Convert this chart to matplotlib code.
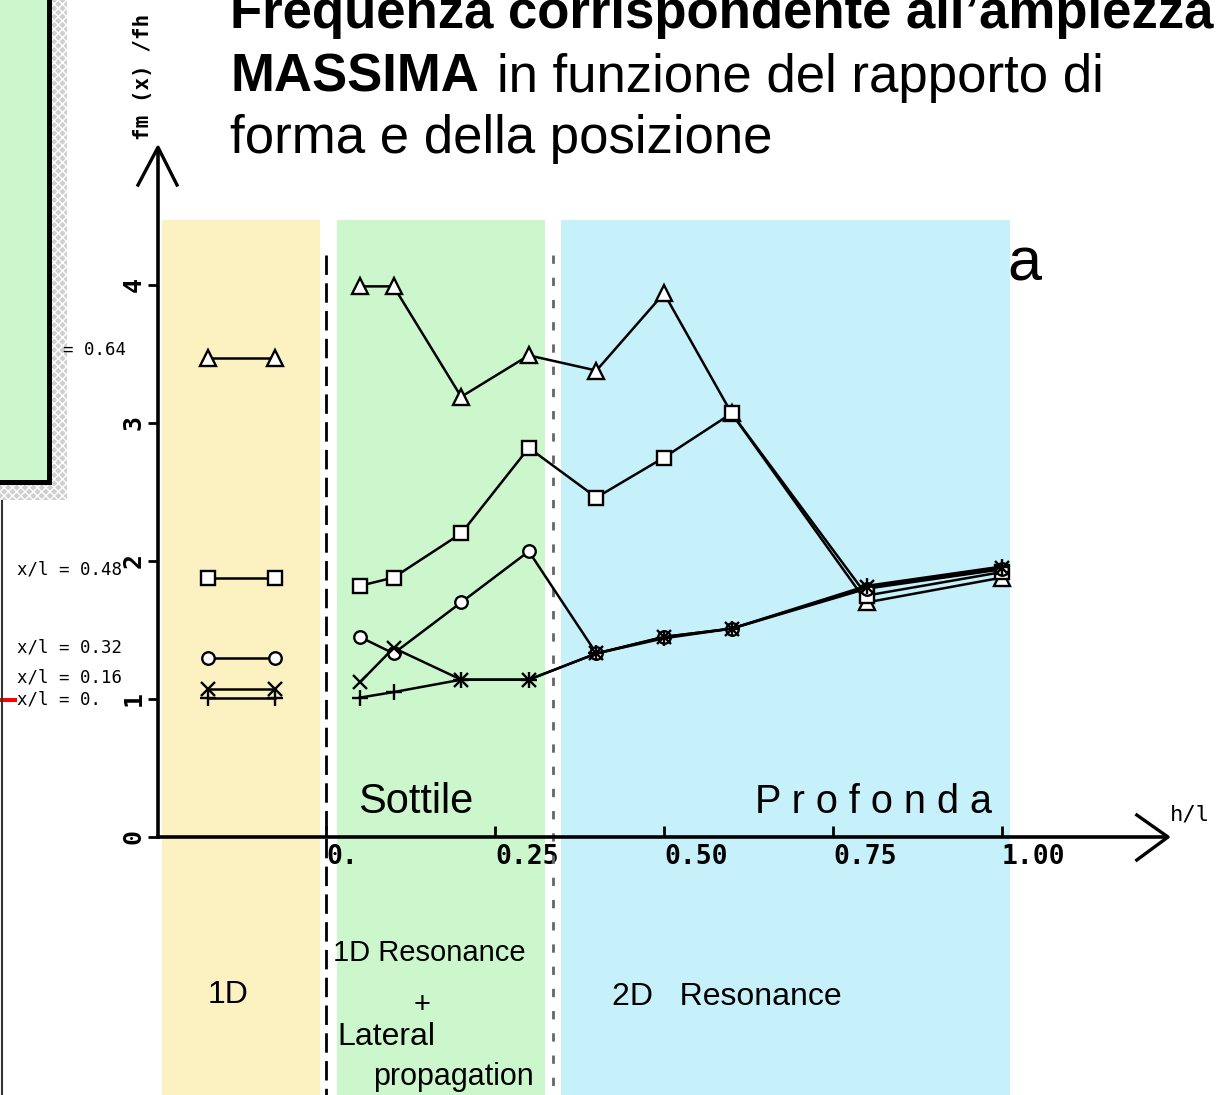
import matplotlib
matplotlib.use('Agg')
import matplotlib.pyplot as plt
import matplotlib.transforms as mtransforms
from matplotlib.patches import Rectangle

W, H = 1221, 1095

# h/l of the computed sections, and the two columns of the 1D reference case
h_l = [0.05, 0.1, 0.2, 0.3, 0.4, 0.5, 0.6, 0.8, 1.0]
h_l_1d = [-0.175, -0.075]

# fm(x)/fh for each position x/l along the section
f_064 = [3.99, 3.99, 3.19, 3.49, 3.38, 3.94, 3.07, 1.70, 1.88]
f_048 = [1.82, 1.88, 2.20, 2.82, 2.46, 2.75, 3.07, 1.75, 1.92]
f_032 = [1.45, 1.33, 1.70, 2.07, 1.33, 1.45, 1.51, 1.80, 1.94]
f_016 = [1.12, 1.37, 1.14, 1.14, 1.33, 1.45, 1.51, 1.81, 1.95]
f_000 = [1.01, 1.05, 1.14, 1.14, 1.33, 1.44, 1.51, 1.82, 1.96]
f_1d = [3.47, 1.88, 1.30, 1.07, 1.01]

positions = ['x/l = 0.64', 'x/l = 0.48', 'x/l = 0.32', 'x/l = 0.16', 'x/l = 0.']
markers = ['^', 's', 'o', 'x', '+']
marker_sizes = [11, 10, 9, 10, 11]

y_ticks = [0, 1, 2, 3, 4]
x_ticks = [0, 0.25, 0.5, 0.75, 1.0]
x_tick_labels = ['0.', '0.25', '0.50', '0.75', '1.00']

slide_font = 'Liberation Sans'
plot_font = 'DejaVu Sans Mono'

fig = plt.figure(figsize=(W / 100, H / 100), dpi=100)
fig.patch.set_facecolor('white')

# pixel coordinates, origin at top-left
px = mtransforms.Affine2D().scale(1 / W, -1 / H).translate(0, 1) + fig.transFigure

# coloured bands for the three regimes
for x0, x1, col in [(162, 320, '#fcf1c0'), (337, 545, '#ccf7cc'), (561, 1010, '#c6f0fa')]:
    fig.add_artist(Rectangle((x0, 220), x1 - x0, H - 220, transform=px,
                             facecolor=col, edgecolor='none', zorder=-5))

ax = fig.add_axes([158 / W, 1 - 837 / H, (1165 - 158) / W, (837 - 150) / H])
ax.set_xlim((158 - 326) / 676, (1165 - 326) / 676)
ax.set_ylim(0, (837 - 150) / 138)
ax.patch.set_visible(False)
for side in ['top', 'right']:
    ax.spines[side].set_visible(False)
for side in ['left', 'bottom']:
    ax.spines[side].set_linewidth(2.6)

# region boundaries
ax.plot([0, 0], [4.22, -1.87], color='black', lw=2, ls=(0, (7, 3)), clip_on=False)
ax.plot([0.336, 0.336], [4.22, -1.87], color='#666666', lw=2, ls=(0, (3, 5)), clip_on=False)

series = [f_064, f_048, f_032, f_016, f_000]
for vals, v1d, m, ms in zip(series, f_1d, markers, marker_sizes):
    style = dict(color='black', lw=1.8, marker=m, ms=ms, mfc='white', mec='black',
                 mew=1.7, clip_on=False, zorder=3)
    ax.plot(h_l, vals, **style)
    ax.plot(h_l_1d, [v1d, v1d], **style)

ax.set_yticks(y_ticks)
ax.set_yticklabels([str(t) for t in y_ticks], rotation=90, va='center',
                   fontfamily=plot_font, fontweight='bold', fontsize=18)
ax.tick_params(axis='y', direction='out', length=7, width=2, pad=2)
ax.set_xticks(x_ticks)
ax.set_xticklabels(x_tick_labels, ha='left', fontfamily=plot_font,
                   fontweight='bold', fontsize=19)
ax.tick_params(axis='x', direction='in', length=8, width=2, pad=5)

# arrow heads on both axes
ax.plot([-0.0199, 0, 0.0189], [0.949, 1.004, 0.949], color='black', lw=2.4,
        transform=ax.transAxes, clip_on=False)
ax.plot([0.972, 1.003, 0.972], [0.032, 0, -0.0335], color='black', lw=2.4,
        transform=ax.transAxes, clip_on=False)

fig.text(143, 77, 'fm (x) /fh', transform=px, rotation=90, ha='center', va='center',
         fontfamily=plot_font, fontweight='bold', fontsize=15)
fig.text(1170, 815, 'h/l', transform=px, ha='left', va='center',
         fontfamily=plot_font, fontsize=16)

# series names on the left
label_x = [21, 17, 17, 17, 17]
label_y = [350, 570, 648, 677, 700]
for lbl, x, y in zip(positions, label_x, label_y):
    fig.text(x, y, lbl, transform=px, ha='left', va='center', zorder=10.5,
             fontfamily=plot_font, fontsize=12.5, color='black')
fig.add_artist(Rectangle((0, 698), 17, 4, transform=px, facecolor='red',
                         edgecolor='none'))
fig.add_artist(plt.Line2D([1.5, 1.5], [500, H], transform=px, color='#333333', lw=1.5))

# green box with shadow at the left edge
fig.add_artist(Rectangle((0, 0), 67, 500, transform=px, facecolor='#cfcfcf',
                         edgecolor='white', hatch='xxxx', lw=0, zorder=10))
fig.add_artist(Rectangle((0, 0), 52, 485, transform=px, facecolor='black',
                         edgecolor='none', zorder=11))
fig.add_artist(Rectangle((0, 0), 47, 480, transform=px, facecolor='#ccf7cc',
                         edgecolor='none', zorder=12))

# regime annotations
fig.text(358, 802, 'Sottile', transform=px, ha='left', va='center',
         fontfamily=slide_font, fontsize=30)
fig.text(755, 802, 'P r o f o n d a', transform=px, ha='left', va='center',
         fontfamily=slide_font, fontsize=28.5)
fig.text(1007, 265, 'a', transform=px, ha='left', va='center',
         fontfamily=slide_font, fontsize=44)

fig.text(228, 995, '1D', transform=px, ha='center', va='center',
         fontfamily=slide_font, fontsize=23)
fig.text(333, 953, '1D Resonance', transform=px, ha='left', va='center',
         fontfamily=slide_font, fontsize=21)
fig.text(422, 1005, '+', transform=px, ha='center', va='center',
         fontfamily=slide_font, fontsize=21)
fig.text(337, 1037, 'Lateral', transform=px, ha='left', va='center',
         fontfamily=slide_font, fontsize=23)
fig.text(373, 1077, 'propagation', transform=px, ha='left', va='center',
         fontfamily=slide_font, fontsize=22)
fig.text(612, 997, '2D   Resonance', transform=px, ha='left', va='center',
         fontfamily=slide_font, fontsize=23)

# slide title
fig.text(230, 28, 'Frequenza corrispondente all\u2019ampiezza', transform=px,
         ha='left', va='baseline', fontfamily=slide_font, fontweight='bold', fontsize=38)
fig.text(230, 92, 'MASSIMA', transform=px, ha='left', va='baseline',
         fontfamily=slide_font, fontweight='bold', fontsize=38)
fig.text(497, 92, 'in funzione del rapporto di', transform=px, ha='left',
         va='baseline', fontfamily=slide_font, fontsize=38)
fig.text(230, 153, 'forma e della posizione', transform=px, ha='left',
         va='baseline', fontfamily=slide_font, fontsize=38)

fig.savefig('out.png', dpi=100)
